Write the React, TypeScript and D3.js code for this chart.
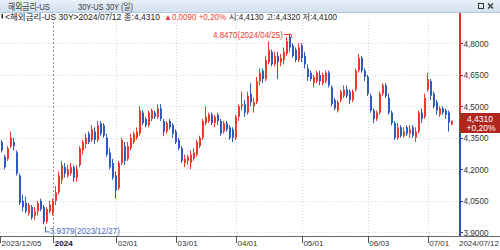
import React from 'react';
import * as d3 from 'd3';

// ---- data: trading days per month ----
const decDays = [5, 6, 7, 8, 11, 12, 13, 14, 15, 18, 19, 20, 21, 22, 26, 27, 28, 29];
const janDays = [2, 3, 4, 5, 8, 9, 10, 11, 12, 16, 17, 18, 19, 22, 23, 24, 25, 26, 29, 30, 31];
const febDays = [1, 2, 5, 6, 7, 8, 9, 12, 13, 14, 15, 16, 20, 21, 22, 23, 26, 27, 28, 29];
const marDays = [1, 4, 5, 6, 7, 8, 11, 12, 13, 14, 15, 18, 19, 20, 21, 22, 25, 26, 27, 28];
const aprDays = [1, 2, 3, 4, 5, 8, 9, 10, 11, 12, 15, 16, 17, 18, 19, 22, 23, 24, 25, 26, 29, 30];
const mayDays = [1, 2, 3, 6, 7, 8, 9, 10, 13, 14, 15, 16, 17, 20, 21, 22, 23, 24, 28, 29, 30, 31];
const junDays = [3, 4, 5, 6, 7, 10, 11, 12, 13, 14, 17, 18, 19, 20, 21, 24, 25, 26, 27, 28];
const julDays = [1, 2, 3, 5, 8, 9, 10, 11, 12];

// ---- OHLC [open, high, low, close] ----
const dec23 = [
  [4.41, 4.42, 4.28, 4.29], [4.33, 4.34, 4.28, 4.29], [4.26, 4.27, 4.20, 4.21], [4.25, 4.31, 4.24, 4.30],
  [4.31, 4.38, 4.30, 4.35], [4.33, 4.35, 4.29, 4.31], [4.28, 4.29, 4.17, 4.18], [4.17, 4.18, 4.03, 4.04],
  [4.05, 4.08, 4.00, 4.02], [4.04, 4.07, 3.99, 4.00], [3.99, 4.04, 3.98, 4.03], [4.02, 4.03, 3.96, 3.97],
  [3.98, 4.02, 3.96, 4.00], [4.00, 4.05, 3.98, 4.04], [4.05, 4.06, 4.00, 4.01], [4.02, 4.03, 3.9379, 3.95],
  [3.95, 4.02, 3.94, 4.01], [4.00, 4.05, 3.99, 4.03],
];
const jan24 = [
  [3.99, 4.06, 3.98, 4.05], [4.05, 4.12, 4.03, 4.09], [4.09, 4.19, 4.08, 4.17], [4.15, 4.24, 4.13, 4.22],
  [4.21, 4.23, 4.16, 4.18], [4.17, 4.22, 4.16, 4.20], [4.18, 4.23, 4.17, 4.21], [4.21, 4.22, 4.14, 4.16],
  [4.16, 4.22, 4.14, 4.20], [4.22, 4.31, 4.21, 4.30], [4.29, 4.34, 4.27, 4.33], [4.32, 4.37, 4.30, 4.35],
  [4.37, 4.38, 4.32, 4.33], [4.34, 4.41, 4.33, 4.39], [4.38, 4.40, 4.32, 4.34], [4.34, 4.43, 4.33, 4.41],
  [4.42, 4.43, 4.36, 4.37], [4.41, 4.42, 4.35, 4.36], [4.35, 4.37, 4.26, 4.27], [4.28, 4.30, 4.20, 4.21],
  [4.23, 4.25, 4.15, 4.16],
];
const feb24 = [
  [4.17, 4.19, 4.06, 4.10], [4.11, 4.24, 4.10, 4.23], [4.23, 4.35, 4.22, 4.34], [4.31, 4.33, 4.22, 4.24],
  [4.25, 4.33, 4.24, 4.31], [4.30, 4.37, 4.29, 4.35], [4.33, 4.38, 4.32, 4.37], [4.35, 4.40, 4.34, 4.38],
  [4.37, 4.50, 4.36, 4.48], [4.47, 4.48, 4.41, 4.42], [4.44, 4.45, 4.40, 4.41], [4.41, 4.48, 4.40, 4.47],
  [4.44, 4.49, 4.43, 4.48], [4.47, 4.48, 4.44, 4.45], [4.45, 4.51, 4.44, 4.49], [4.49, 4.51, 4.43, 4.44],
  [4.43, 4.44, 4.36, 4.38], [4.38, 4.43, 4.37, 4.42], [4.43, 4.44, 4.39, 4.40], [4.41, 4.42, 4.35, 4.37],
];
const mar24 = [
  [4.38, 4.39, 4.32, 4.33], [4.34, 4.35, 4.29, 4.30], [4.30, 4.31, 4.23, 4.24], [4.23, 4.27, 4.21, 4.25],
  [4.24, 4.27, 4.22, 4.26], [4.23, 4.29, 4.20, 4.27], [4.25, 4.30, 4.24, 4.28], [4.27, 4.34, 4.26, 4.33],
  [4.31, 4.36, 4.30, 4.35], [4.35, 4.44, 4.34, 4.43], [4.42, 4.50, 4.41, 4.45], [4.43, 4.47, 4.42, 4.46],
  [4.46, 4.47, 4.41, 4.42], [4.42, 4.46, 4.40, 4.45], [4.46, 4.47, 4.41, 4.43], [4.43, 4.44, 4.36, 4.37],
  [4.38, 4.43, 4.37, 4.42], [4.42, 4.43, 4.38, 4.39], [4.40, 4.41, 4.34, 4.35], [4.39, 4.40, 4.33, 4.35],
];
const apr24 = [
  [4.35, 4.46, 4.34, 4.45], [4.45, 4.51, 4.43, 4.50], [4.50, 4.57, 4.48, 4.51], [4.51, 4.53, 4.45, 4.47],
  [4.47, 4.57, 4.46, 4.55], [4.56, 4.61, 4.50, 4.52], [4.50, 4.54, 4.47, 4.52], [4.52, 4.64, 4.51, 4.62],
  [4.62, 4.68, 4.60, 4.66], [4.67, 4.68, 4.61, 4.63], [4.63, 4.74, 4.62, 4.72], [4.71, 4.81, 4.70, 4.77],
  [4.76, 4.77, 4.69, 4.70], [4.70, 4.76, 4.69, 4.74], [4.74, 4.76, 4.63, 4.71], [4.71, 4.75, 4.69, 4.73],
  [4.72, 4.78, 4.70, 4.76], [4.75, 4.83, 4.74, 4.81], [4.83, 4.847, 4.76, 4.78], [4.79, 4.80, 4.73, 4.74],
  [4.77, 4.78, 4.71, 4.72], [4.72, 4.80, 4.71, 4.78],
];
const may24 = [
  [4.79, 4.80, 4.71, 4.73], [4.74, 4.76, 4.68, 4.70], [4.68, 4.70, 4.62, 4.64], [4.66, 4.67, 4.62, 4.63],
  [4.61, 4.65, 4.59, 4.64], [4.62, 4.67, 4.61, 4.66], [4.65, 4.67, 4.60, 4.62], [4.61, 4.66, 4.60, 4.65],
  [4.62, 4.67, 4.61, 4.66], [4.66, 4.67, 4.59, 4.60], [4.59, 4.60, 4.50, 4.51], [4.53, 4.54, 4.48, 4.49],
  [4.48, 4.53, 4.47, 4.52], [4.53, 4.58, 4.52, 4.57], [4.55, 4.60, 4.54, 4.58], [4.58, 4.60, 4.54, 4.55],
  [4.57, 4.58, 4.51, 4.53], [4.53, 4.58, 4.52, 4.57], [4.58, 4.68, 4.57, 4.67], [4.67, 4.75, 4.66, 4.73],
  [4.73, 4.74, 4.66, 4.67], [4.67, 4.68, 4.62, 4.64],
];
const jun24 = [
  [4.64, 4.65, 4.55, 4.56], [4.55, 4.56, 4.47, 4.48], [4.48, 4.49, 4.42, 4.44], [4.44, 4.48, 4.43, 4.47],
  [4.47, 4.57, 4.46, 4.56], [4.56, 4.61, 4.55, 4.60], [4.60, 4.61, 4.54, 4.55], [4.54, 4.56, 4.46, 4.47],
  [4.47, 4.48, 4.41, 4.42], [4.42, 4.43, 4.34, 4.35], [4.35, 4.42, 4.34, 4.40], [4.40, 4.41, 4.35, 4.36],
  [4.36, 4.40, 4.35, 4.38], [4.40, 4.41, 4.36, 4.37], [4.37, 4.41, 4.35, 4.39], [4.40, 4.41, 4.35, 4.36],
  [4.35, 4.40, 4.33, 4.38], [4.38, 4.48, 4.37, 4.47], [4.47, 4.49, 4.42, 4.44], [4.45, 4.56, 4.44, 4.54],
];
const jul24 = [
  [4.58, 4.66, 4.57, 4.63], [4.62, 4.63, 4.53, 4.55], [4.56, 4.57, 4.49, 4.50], [4.52, 4.53, 4.46, 4.48],
  [4.46, 4.50, 4.45, 4.49], [4.49, 4.50, 4.46, 4.47], [4.48, 4.49, 4.44, 4.46], [4.47, 4.48, 4.38, 4.422],
  [4.413, 4.432, 4.41, 4.431],
];

const yTicks = [3.9, 4.05, 4.2, 4.35, 4.5, 4.65, 4.8];
const titleLeft = '해외금리-US';
const titleMid = '30Y-US 30Y (일)';
const infoA = '<해외금리-US 30Y>2024/07/12 종:4,4310';
const infoB = '▲0,0090 +0,20%';
const infoC = '시:4,4130 고:4,4320 저:4,4100';
const lastDateLabel = '2024/07/12';
const changeLabel = '+0,20%';

const RED = '#ee3a2c';
const BLUE = '#2e5bbd';
const FONT = "'Liberation Sans', 'Noto Sans CJK KR', sans-serif";

type Candle = { date: Date; o: number; h: number; l: number; c: number };

function build(): Candle[] {
  const months: [number, number, number[], number[][]][] = [
    [2023, 11, decDays, dec23], [2024, 0, janDays, jan24], [2024, 1, febDays, feb24],
    [2024, 2, marDays, mar24], [2024, 3, aprDays, apr24], [2024, 4, mayDays, may24],
    [2024, 5, junDays, jun24], [2024, 6, julDays, jul24],
  ];
  const out: Candle[] = [];
  months.forEach(([yr, mo, days, vals]) => {
    days.forEach((d, k) => {
      const v = vals[k];
      out.push({ date: new Date(yr, mo, d), o: v[0], h: v[1], l: v[2], c: v[3] });
    });
  });
  return out;
}

const fmtComma = (v: number) => d3.format('.4f')(v).replace('.', ',');
const fmtDot = (v: number) => d3.format('.4f')(v);

export default function App() {
  const data = build();
  const n = data.length;
  const jan2 = data.findIndex((d) => d.date.getFullYear() === 2024);
  const x = d3.scaleLinear().domain([jan2, n - 1]).range([53.3, 451.7]);
  const y = d3.scaleLinear().domain([3.9, 4.8]).range([232.3, 43.3]);

  // month-start ticks
  const monthStarts: number[] = [];
  data.forEach((d, i) => {
    if (i > 0 && d.date.getMonth() !== data[i - 1].date.getMonth()) monthStarts.push(i);
  });
  const fmtMD = d3.timeFormat('%m/%d');
  const fmtFull = d3.timeFormat('%Y/%m/%d');

  const last = data[n - 1];
  let hiI = 0, loI = 0;
  data.forEach((d, i) => {
    if (d.h > data[hiI].h) hiI = i;
    if (d.l < data[loI].l) loI = i;
  });

  const axisX = 459;
  const plotBottom = 236;
  const lastY = y(last.c);

  return (
    <svg width={500} height={250} style={{ position: 'absolute', left: 0, top: 0, display: 'block', background: '#fff' }} fontFamily={FONT}>
      <defs>
        <clipPath id="plot">
          <rect x={0} y={22} width={axisX} height={plotBottom - 22} />
        </clipPath>
        <linearGradient id="tb" x1="0" y1="0" x2="0" y2="1">
          <stop offset="0" stopColor="#e9f0f9" />
          <stop offset="1" stopColor="#d3e0f0" />
        </linearGradient>
      </defs>
      <rect x={0} y={0} width={500} height={250} fill="#fff" />
      {/* title bar */}
      <rect x={0} y={0} width={500} height={12} fill="url(#tb)" />
      <line x1={0} x2={500} y1={12.5} y2={12.5} stroke="#b9c9dc" />
      <text x={8} y={9.5} fontSize={9} fill="#3a3a3a" textLength={42} lengthAdjust="spacingAndGlyphs">{titleLeft}</text>
      <text x={78} y={9.5} fontSize={9} fill="#3a3a3a" textLength={55} lengthAdjust="spacingAndGlyphs">{titleMid}</text>
      <rect x={478.5} y={3.5} width={5} height={5} fill="none" stroke="#333" />
      <path d="M488,3.5 L493,8.5 M493,3.5 L488,8.5" stroke="#333" strokeWidth={1.2} />

      {/* info line */}
      <rect x={1.5} y={14} width={1.5} height={4.5} fill="#222" />
      <text x={5} y={19.5} fontSize={8.5} fill="#222" textLength={155} lengthAdjust="spacingAndGlyphs">{infoA}</text>
      <text x={164} y={19.5} fontSize={8.5} fill={RED} textLength={62} lengthAdjust="spacingAndGlyphs">{infoB}</text>
      <text x={229} y={19.5} fontSize={8.5} fill="#222" textLength={108} lengthAdjust="spacingAndGlyphs">{infoC}</text>

      {/* gridlines */}
      {yTicks.map((t) => (
        <line key={'g' + t} x1={0} x2={axisX} y1={Math.round(y(t)) + 0.5} y2={Math.round(y(t)) + 0.5} stroke="#d4d4d4" strokeDasharray="1,2" />
      ))}
      {monthStarts.map((i) => (
        <line key={'v' + i} x1={Math.round(x(i)) + 0.5} x2={Math.round(x(i)) + 0.5} y1={22} y2={plotBottom}
          stroke={i === jan2 ? '#9a9a9a' : '#d4d4d4'} strokeDasharray={i === jan2 ? '2,2' : '1,2'} />
      ))}

      {/* candles */}
      <g clipPath="url(#plot)">
        {data.map((d, i) => {
          const cx = Math.round(x(i));
          const up = d.c >= d.o;
          const col = up ? RED : BLUE;
          const top = y(Math.max(d.o, d.c));
          const bot = y(Math.min(d.o, d.c));
          return (
            <g key={i}>
              <rect x={cx - 1} y={y(d.h)} width={1} height={Math.max(1, y(d.l) - y(d.h))} fill={col} />
              <rect x={cx - 1} y={top} width={2} height={Math.max(1, bot - top)} fill={col} />
            </g>
          );
        })}
      </g>

      {/* high / low annotations */}
      <text x={x(hiI) - 77} y={38} fontSize={8.5} fill={RED} textLength={70} lengthAdjust="spacingAndGlyphs">
        {fmtDot(data[hiI].h) + '(' + fmtFull(data[hiI].date) + ')'}
      </text>
      <path d={`M${x(hiI) - 6},34.5 H${x(hiI) + 1.5} V38`} fill="none" stroke={RED} />
      <path d={`M${x(loI) + 1.2},${y(data[loI].l) + 2} V${y(data[loI].l) + 7.5} H${x(loI) + 5}`} fill="none" stroke="#4a6cc0" />
      <text x={x(loI) + 5.5} y={y(data[loI].l) + 10} fontSize={8.5} fill="#4a6cc0" textLength={70} lengthAdjust="spacingAndGlyphs">
        {fmtDot(data[loI].l) + '(' + fmtFull(data[loI].date) + ')'}
      </text>

      {/* right axis */}
      <rect x={axisX} y={13} width={2} height={lastY - 13} fill="#e0302a" />
      <rect x={axisX} y={lastY} width={2} height={plotBottom - lastY} fill="#2b55b8" />
      {yTicks.map((t) => (
        <g key={'yt' + t}>
          <line x1={461} x2={463} y1={Math.round(y(t)) + 0.5} y2={Math.round(y(t)) + 0.5} stroke="#444" />
          <text x={463.5} y={y(t) + 3.2} fontSize={8.5} fill="#333" textLength={25} lengthAdjust="spacingAndGlyphs">{fmtComma(t)}</text>
        </g>
      ))}
      <rect x={460} y={113} width={40} height={20} fill="#b0261f" />
      <text x={480} y={121.5} fontSize={8.5} fill="#fff" textAnchor="middle">{fmtComma(last.c)}</text>
      <text x={481} y={130.5} fontSize={8.5} fill="#fff" textAnchor="middle">{changeLabel}</text>

      {/* bottom axis */}
      <rect x={0} y={plotBottom} width={500} height={14} fill="#fff" />
      <line x1={0} x2={500} y1={plotBottom + 0.5} y2={plotBottom + 0.5} stroke="#666" />
      <line x1={0.5} x2={0.5} y1={plotBottom} y2={plotBottom + 7} stroke="#555" />
      <text x={1.5} y={245.5} fontSize={8} fill="#333" textLength={40} lengthAdjust="spacingAndGlyphs">{fmtFull(data[0].date)}</text>
      {monthStarts.map((i) => (
        <g key={'xt' + i}>
          <line x1={Math.round(x(i)) + 0.5} x2={Math.round(x(i)) + 0.5} y1={plotBottom} y2={plotBottom + 7} stroke="#555" />
          {i === jan2 ? (
            <text x={x(i) + 1.5} y={245.5} fontSize={8} fontWeight="bold" fill="#111">{String(data[i].date.getFullYear())}</text>
          ) : (
            <text x={x(i) + 1.5} y={245.5} fontSize={8} fill="#333" textLength={20} lengthAdjust="spacingAndGlyphs">{fmtMD(data[i].date)}</text>
          )}
        </g>
      ))}
      <text x={499} y={245.5} fontSize={8} fill="#333" textAnchor="end">{lastDateLabel}</text>
    </svg>
  );
}
